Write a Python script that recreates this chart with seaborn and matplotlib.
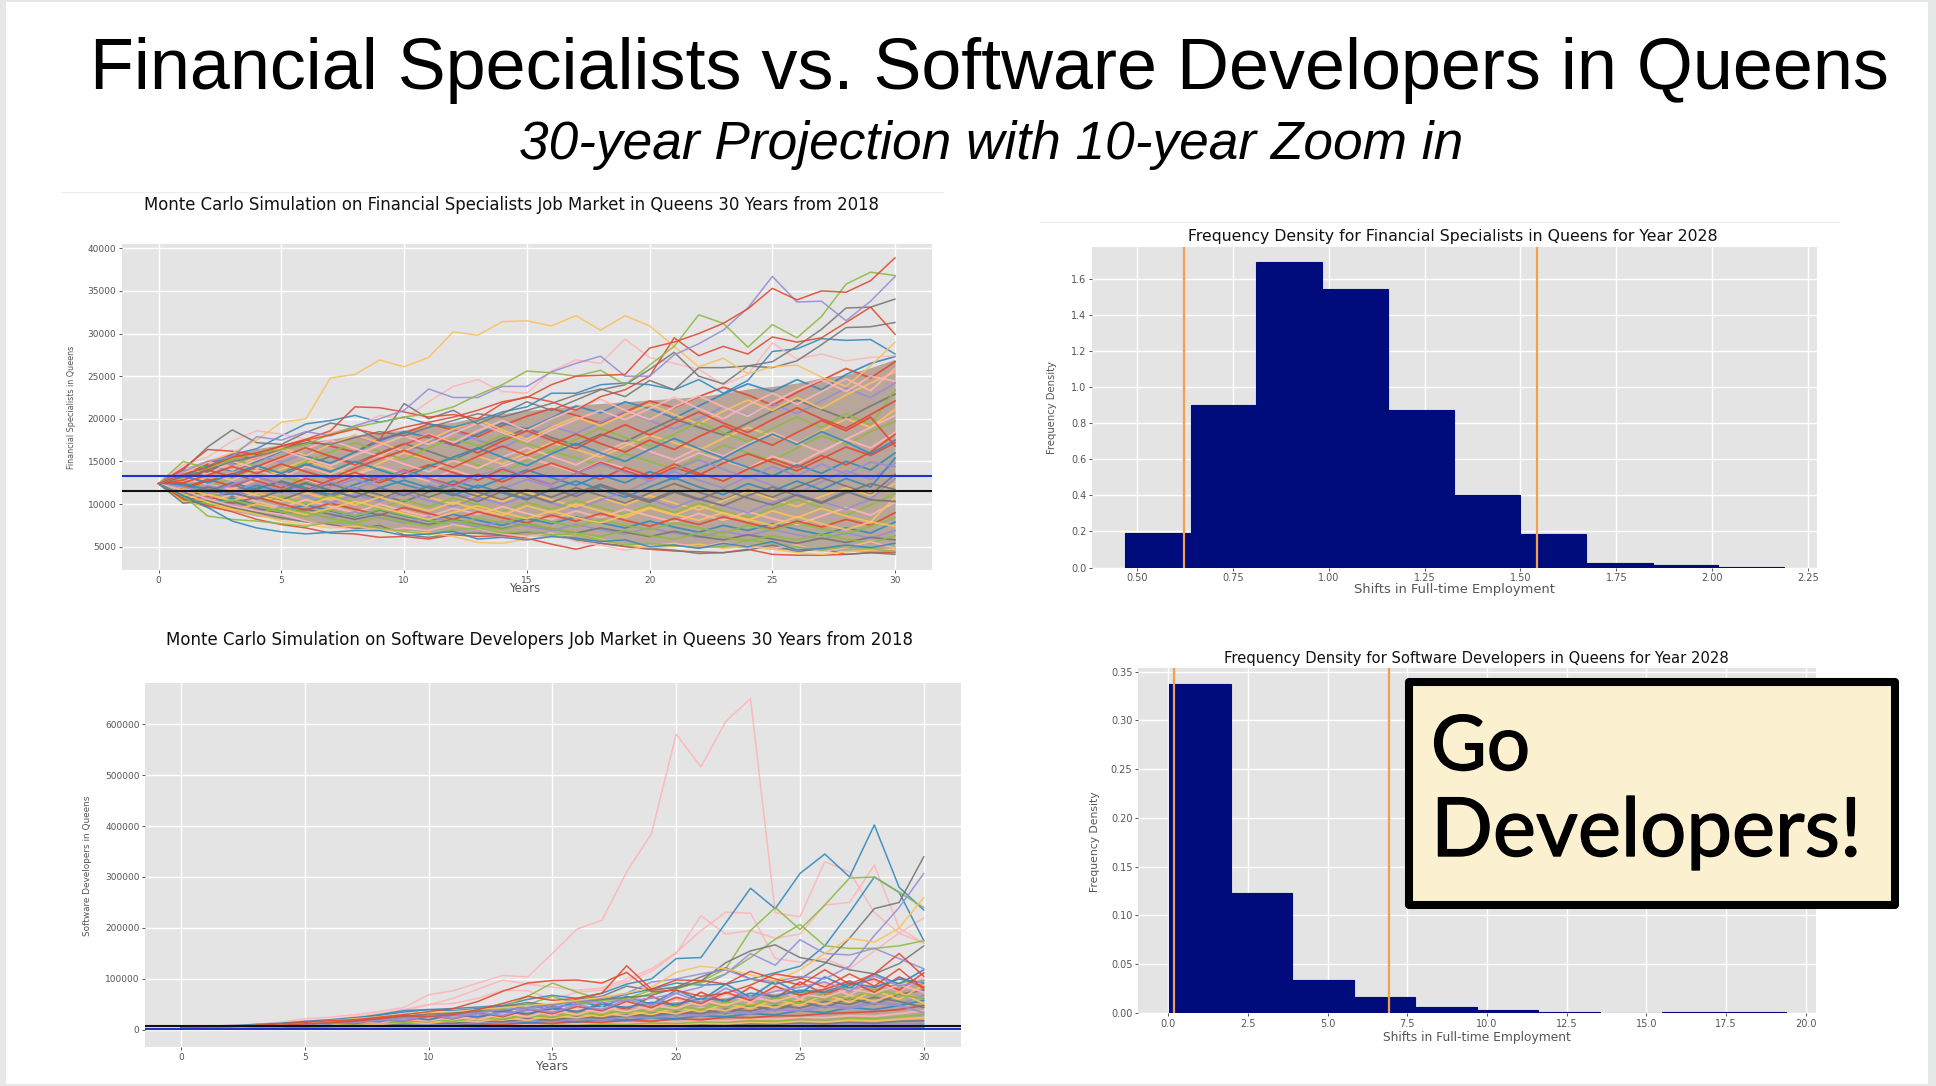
import matplotlib
matplotlib.use("Agg")
import matplotlib.pyplot as plt
import matplotlib.patheffects as pe
from matplotlib.patches import Rectangle
import pandas as pd
import seaborn as sns

W, H = 1936, 1086
R, B, P, K, Y, G, N = "#E24A33", "#348ABD", "#988ED5", "#777777", "#FBC15E", "#8EBA42", "#FFB5B8"
YEARS = list(range(31))

# ---- Financial specialists: values in thousands
fin_yellow = [12.4,13.5,15.0,16.0,17.5,19.6,20.0,24.8,25.2,26.9,26.1,27.2,30.2,29.8,31.4,31.5,30.9,32.1,30.4,32.1,30.9,28.5,26.1,27.1,25.3,26.1,26.3,24.9,23.8,26.2,29.0]
fin_red1 = [12.4,13.5,14.3,15.5,16.0,16.8,17.5,18.1,18.8,18.2,19.0,19.6,20.2,21.0,22.0,22.5,24.0,25.0,25.1,25.2,28.3,29.0,30.0,31.2,32.9,35.3,33.95,35.0,34.85,36.2,38.9]
fin_purple = [12.4,13.8,15.0,15.6,17.9,17.5,18.5,18.0,19.2,20.0,21.0,23.5,22.5,22.5,23.8,23.8,25.5,26.5,27.35,25.0,25.0,27.5,28.8,30.4,33.0,36.7,33.7,33.8,31.5,33.8,36.7]
fin_green = [12.4,15.0,14.2,15.2,16.0,16.4,17.0,18.2,19.0,19.6,20.2,20.6,21.4,22.8,24.0,25.6,25.4,25.0,25.7,24.0,26.3,28.5,32.2,31.2,28.4,31.05,29.5,32.0,35.8,37.2,36.8]
fin_grey1 = [12.4,14.0,16.7,18.7,17.2,17.0,18.4,19.5,19.0,17.5,21.8,20.0,21.0,19.4,20.6,22.0,21.0,22.2,23.4,24.0,25.8,27.8,25.0,24.1,26.2,26.7,28.5,30.5,33.0,33.1,34.05]
fin_grey2 = [12.4,13.2,14.0,15.0,15.6,16.4,17.2,17.0,17.8,18.5,18.0,19.0,19.8,20.6,20.2,21.0,21.8,22.8,23.5,22.6,24.5,23.4,26.0,26.0,26.2,26.0,26.8,28.7,30.7,30.8,31.3]
fin_red2 = [12.4,14.2,16.4,16.2,15.8,16.8,17.6,18.6,21.4,21.3,20.8,20.2,20.5,20.0,21.8,22.6,22.0,21.0,22.6,23.4,25.0,29.5,27.4,28.5,27.6,29.6,29.0,29.5,31.3,33.1,29.9]
fin_pink = [12.4,14.6,15.5,17.4,18.6,18.2,17.6,18.4,19.0,20.4,20.0,22.0,23.8,24.6,23.2,23.0,25.6,26.9,26.5,29.35,27.2,26.5,25.8,24.0,25.2,28.9,27.0,27.6,26.8,27.2,27.4]
fin_blue_hi = [12.4,13.4,14.4,15.8,16.5,18.0,19.4,19.8,20.4,19.6,20.2,19.4,19.0,19.8,20.8,21.4,23.0,23.0,24.0,24.2,24.0,23.4,24.6,23.0,24.5,27.9,28.2,29.4,29.2,29.3,27.6]
fin_blue_lo = [12.4,11.0,9.6,8.0,7.2,6.75,6.5,6.7,6.9,6.9,6.3,6.5,6.8,5.9,6.1,5.8,6.2,6.0,5.6,5.8,5.0,5.2,4.8,5.4,5.0,5.6,4.6,4.8,5.2,4.9,5.4]
fin_green_lo = [12.4,11.0,8.6,8.2,8.0,7.7,7.4,7.9,7.7,7.2,6.8,6.4,7.0,7.2,6.6,6.8,6.4,6.5,5.8,5.2,5.4,5.1,4.9,5.0,5.8,5.4,5.0,4.6,5.0,4.8,4.4]
fin_yellow_lo = [12.4,11.2,10.2,9.4,8.8,8.0,7.6,7.2,7.4,7.0,6.7,6.6,6.2,5.5,5.4,5.9,6.1,6.5,5.9,5.2,4.9,5.0,5.3,4.8,5.1,4.7,4.3,4.1,4.4,4.6,4.7]
fin_red_lo = [12.4,10.6,9.8,9.1,8.2,7.6,7.2,6.6,6.5,6.1,6.2,5.9,6.4,6.2,6.3,6.0,5.3,4.7,5.4,5.0,4.7,4.5,4.4,4.3,4.7,4.1,4.0,4.0,4.1,4.3,4.3]
fin_grey_lo = [12.4,10.1,10.4,9.6,9.0,8.4,7.9,7.6,7.1,7.5,6.4,6.1,6.5,6.6,6.4,6.7,6.5,5.8,5.4,5.1,4.8,4.6,4.2,4.3,4.6,5.2,4.4,4.8,4.1,4.3,4.1]
fin_pink_lo = [12.4,11.6,10.6,9.8,9.2,8.8,8.0,7.4,7.0,6.8,7.2,6.9,7.6,7.1,6.5,6.2,6.6,5.6,5.2,4.6,5.1,5.4,4.9,5.5,5.0,4.8,5.2,4.4,4.9,5.6,4.8]
m01 = [12.4,13.6,14.7,15.9,15.2,16.4,17.5,16.8,16.1,17.6,18.3,19.4,18.7,17.9,19.2,20.3,21.2,20.4,19.5,20.8,22.1,21.3,22.6,23.7,22.8,21.6,23.1,24.5,25.9,24.8,26.7]
m02 = [12.4,13.2,14.5,13.9,15.0,16.2,15.6,14.8,16.1,17.4,18.5,17.8,16.9,18.2,19.5,18.8,20.1,21.5,20.7,22.0,21.2,20.1,21.5,22.9,24.1,23.2,24.6,23.4,25.2,26.5,27.3]
m03 = [12.4,14.1,13.4,14.6,15.7,14.9,15.9,17.0,18.0,17.1,16.0,17.3,18.6,17.5,16.6,18.0,19.1,18.3,19.6,20.9,19.8,18.8,20.0,21.4,20.4,21.8,20.6,22.1,23.6,22.5,24.2]
m04 = [12.4,12.9,13.8,14.9,14.1,13.3,14.5,15.6,14.8,16.0,17.1,16.2,15.2,16.5,17.7,18.9,17.8,16.9,18.2,17.3,18.7,20.0,19.0,18.1,19.5,20.9,22.2,21.1,20.0,21.5,22.9]
m05 = [12.4,13.4,12.8,13.7,12.9,14.1,15.1,14.2,13.5,14.8,16.0,15.2,14.3,15.6,14.7,16.0,17.2,16.4,15.5,16.8,18.1,17.2,16.3,17.7,19.0,18.0,17.1,18.6,20.0,19.0,21.1]
m06 = [12.4,12.6,11.9,13.1,14.0,13.2,12.5,13.8,14.9,14.1,13.2,14.5,15.5,14.6,13.7,15.1,16.2,15.4,14.6,15.9,15.0,14.1,15.5,16.9,16.0,15.1,16.6,18.0,17.0,18.5,19.7]
m07 = [12.4,13.0,12.3,11.7,12.9,13.8,12.9,12.1,13.4,14.4,13.5,12.7,14.0,13.1,14.4,15.5,14.6,13.7,15.0,14.2,13.3,14.7,16.0,15.1,14.2,15.6,14.7,16.2,17.6,16.6,18.4]
m08 = [12.4,11.8,12.7,13.6,12.7,11.9,13.0,12.2,13.3,12.5,13.6,14.6,13.7,12.8,14.1,13.2,12.3,13.6,14.9,13.9,13.0,14.3,13.4,14.8,15.9,14.9,13.9,15.3,16.7,15.7,17.2]
m09 = [12.4,12.2,11.5,12.5,11.7,12.7,11.9,11.1,12.3,13.2,12.3,11.5,12.7,11.9,13.0,14.0,13.1,12.2,13.4,12.5,13.8,12.9,14.2,15.3,14.3,13.3,14.6,13.6,15.0,14.0,16.0]
m10 = [12.4,11.3,12.2,11.5,12.4,11.6,10.9,12.0,12.9,12.0,11.2,12.3,11.4,10.6,11.8,12.9,12.0,11.1,12.3,11.4,12.7,13.8,12.8,11.9,13.2,12.2,11.3,12.6,13.9,12.9,14.8]
m11 = [12.4,10.9,11.7,10.9,11.9,12.6,11.7,10.9,11.9,11.1,10.3,11.4,12.3,11.4,10.5,11.7,10.8,11.9,11.0,10.1,11.3,12.4,11.4,10.5,11.7,10.8,12.0,13.1,12.1,11.1,13.5]
m12 = [12.4,11.6,10.9,11.8,11.0,10.3,11.3,10.5,11.5,10.7,11.7,10.8,10.0,11.1,10.3,11.4,10.5,9.7,10.8,9.9,11.0,10.1,9.3,10.4,11.5,10.6,9.7,10.9,11.9,11.0,12.4]
m13 = [12.4,10.7,11.4,10.6,9.9,10.9,10.1,11.0,10.2,9.5,10.5,9.7,10.7,9.9,9.1,10.2,9.4,10.4,9.6,8.8,9.9,9.0,10.1,9.2,8.4,9.5,10.5,9.6,8.7,9.9,11.2]
m14 = [12.4,11.1,10.3,11.1,10.3,9.6,10.5,9.7,9.0,10.0,9.2,8.5,9.5,8.8,9.7,8.9,8.2,9.2,8.4,9.4,8.6,7.9,8.9,8.1,9.1,8.3,7.6,8.6,9.6,8.7,10.2]
m15 = [12.4,10.4,10.9,10.1,10.8,10.0,9.3,10.1,9.4,8.7,9.6,8.9,8.2,9.1,8.4,7.8,8.7,8.0,8.9,8.1,7.4,8.3,7.6,8.5,7.8,7.1,8.0,7.3,8.2,7.5,9.0]
m16 = [12.4,10.9,10.0,10.7,9.9,9.2,9.9,9.2,8.5,9.3,8.6,8.0,8.8,8.1,7.5,8.3,7.7,8.5,7.8,7.2,8.0,7.3,6.7,7.5,6.9,7.7,7.0,6.4,7.2,6.6,7.9]
m17 = [12.4,10.2,10.6,9.8,9.1,9.7,9.0,8.4,9.1,8.4,7.8,8.5,7.9,7.3,8.0,7.4,6.9,7.6,7.0,6.5,7.2,6.6,6.1,6.8,6.3,7.0,6.4,5.9,6.6,6.0,6.9]
m18 = [12.4,10.6,9.7,10.3,9.5,8.9,9.4,8.8,8.2,8.8,8.2,7.6,8.2,7.6,7.1,7.7,7.1,6.6,7.2,6.7,6.2,6.8,6.2,5.8,6.4,5.9,5.4,6.0,5.5,6.1,5.8]
m19 = [12.4,13.8,15.0,14.3,15.5,16.6,15.7,17.0,18.1,17.2,16.2,17.5,18.8,19.9,18.7,17.6,19.0,20.2,19.2,20.5,21.7,20.5,19.4,20.9,22.2,21.0,22.5,21.2,22.8,24.2,25.5]
m20 = [12.4,13.1,14.2,15.3,14.4,13.7,15.0,16.1,17.2,16.2,15.2,16.6,17.7,16.8,18.1,17.1,16.2,17.6,18.9,17.8,16.8,18.2,19.6,18.4,17.3,18.9,20.2,19.0,20.6,19.3,23.4]
m21 = [12.4,12.7,13.5,12.8,14.0,13.1,14.4,13.5,14.7,15.7,14.7,13.8,15.1,14.2,15.5,16.6,15.6,14.6,16.0,17.2,16.2,15.2,16.6,15.6,17.1,18.4,17.2,16.1,17.6,19.0,20.4]
m22 = [12.4,11.9,12.9,12.1,13.2,12.3,11.6,12.8,13.7,12.8,14.0,13.0,12.2,13.5,12.6,13.8,14.8,13.8,12.9,14.3,13.3,14.7,13.6,12.7,14.1,15.3,14.3,15.7,14.6,16.1,18.2]
m23 = [12.4,12.4,11.7,11.1,12.2,11.4,12.4,11.6,10.8,11.9,12.8,11.9,11.0,12.2,11.3,10.5,11.7,12.7,11.7,10.8,12.0,13.1,12.0,11.1,12.4,11.5,12.7,11.7,13.0,12.0,15.4]
m24 = [12.4,11.5,10.7,11.6,10.7,11.7,10.9,10.1,11.1,10.3,11.3,10.4,9.7,10.8,10.0,11.0,10.1,9.4,10.5,11.4,10.5,9.6,10.7,9.8,9.0,10.2,11.2,10.3,9.4,10.6,13.0]
m25 = [12.4,10.8,11.6,12.3,11.3,10.5,11.5,12.4,11.4,10.6,11.7,10.8,11.8,10.9,12.0,11.1,10.2,11.3,12.3,11.3,10.4,11.6,10.6,9.8,11.0,12.0,11.0,10.1,11.3,12.4,11.7]
m26 = [12.4,11.9,11.1,10.4,11.3,10.6,9.8,10.8,9.9,10.8,10.0,9.2,10.2,9.4,8.7,9.8,9.0,10.0,9.2,8.4,9.5,8.7,9.8,8.9,8.1,9.2,8.4,9.5,8.6,7.9,10.8]
m27 = [12.4,10.5,9.9,10.5,9.8,9.1,8.5,9.3,8.6,9.4,8.7,8.1,7.5,8.4,7.8,8.6,7.9,7.3,8.2,7.5,7.0,7.8,7.2,6.6,7.5,6.9,7.8,7.1,6.5,7.4,8.4]
m28 = [12.4,14.3,13.5,15.0,14.2,15.4,16.5,17.5,16.5,15.6,17.0,18.2,17.2,18.6,19.8,18.6,20.0,21.2,22.3,21.0,19.9,21.4,22.7,21.4,20.3,21.9,23.4,24.6,23.2,25.0,24.4]
m29 = [12.4,12.8,14.0,13.2,14.4,15.5,16.6,15.6,14.6,15.9,17.0,18.1,17.0,16.0,17.4,18.6,17.5,16.5,18.0,19.3,18.1,19.5,20.8,19.5,18.4,19.9,21.3,20.0,18.9,20.5,22.1]
m30 = [12.4,13.3,12.5,13.5,14.5,13.6,14.7,13.8,15.0,14.0,13.1,14.4,15.5,16.6,15.5,14.5,15.9,17.1,16.0,15.0,16.4,17.7,16.5,15.4,16.9,18.2,17.0,18.5,17.3,15.9,17.5]
m31 = [12.4,12.0,11.3,12.3,13.2,12.3,11.5,12.6,11.8,12.9,13.9,12.9,12.0,13.2,14.3,13.3,12.3,13.6,14.7,13.7,12.7,14.0,15.2,14.1,13.0,14.4,13.3,14.7,13.5,14.9,14.4]
m32 = [12.4,11.2,12.0,11.3,10.6,11.6,12.5,11.6,10.8,11.9,11.0,12.1,11.2,10.3,11.5,10.6,11.8,10.9,12.1,11.1,10.2,11.4,10.5,11.7,10.7,9.9,11.1,10.2,11.5,10.5,10.3]
m33 = [12.4,10.3,9.8,9.3,10.0,9.4,8.8,9.5,10.3,9.6,8.9,8.2,9.0,9.8,9.0,8.3,9.2,8.4,7.8,8.7,9.6,8.8,8.1,9.0,8.2,7.5,8.5,7.7,7.0,7.9,7.4]
m34 = [12.4,10.7,10.1,9.5,8.9,9.6,9.0,8.3,7.8,8.5,7.9,7.4,8.1,7.5,7.0,7.7,7.1,6.6,6.2,6.9,6.3,5.9,6.6,6.1,5.7,6.3,5.8,6.5,5.9,5.4,6.3]
m35 = [12.4,13.7,14.9,14.0,15.2,16.3,15.4,14.5,15.7,16.9,18.0,17.0,18.3,19.5,18.4,17.3,18.7,19.9,21.0,19.9,21.2,22.5,21.2,20.0,21.6,23.0,21.7,23.2,24.7,23.3,25.9]
m36 = [12.4,12.5,13.4,14.4,13.6,14.7,13.8,13.0,14.2,15.3,16.3,15.3,14.3,15.6,16.8,15.7,17.0,18.2,17.1,16.1,17.5,16.4,17.9,19.2,18.0,16.9,18.4,19.8,18.6,20.2,16.8]
fin_mass = [m01,m02,m03,m04,m05,m06,m07,m08,m09,m10,m11,m12,m13,m14,m15,m16,m17,m18,m19,m20,m21,m22,m23,m24,m25,m26,m27,m28,m29,m30,m31,m32,m33,m34,m35,m36]
fin_top = [(fin_red_lo,R),(fin_grey_lo,K),(fin_pink_lo,N),(fin_yellow_lo,Y),(fin_green_lo,G),(fin_blue_lo,B),(fin_blue_hi,B),(fin_pink,N),(fin_grey2,K),(fin_grey1,K),(fin_red2,R),(fin_yellow,Y),(fin_purple,P),(fin_green,G),(fin_red1,R)]
fin_band_hi = [12.4,14.2,15.2,15.8,16.5,17.0,17.3,17.6,18.1,18.4,18.7,19.3,19.6,20.2,20.6,21.0,21.2,21.6,21.8,22.0,22.2,22.4,22.6,23.0,23.5,23.8,24.2,24.8,25.2,26.0,27.0]
fin_band_lo = [12.4,10.4,9.6,9.2,8.6,8.2,7.9,7.5,7.2,7.0,6.9,6.7,6.7,6.5,6.3,6.3,6.2,5.8,5.6,5.3,5.2,5.1,5.0,4.9,4.9,4.7,4.6,4.5,4.5,4.4,4.3]
fin_mean, fin_median = 13326, 11530

# ---- Software developers: values in thousands
dev_pink1 = [5,7,9,11,15,22,25,30,36,44,69,77,92,107,104,150,198,215,310,385,580,516,605,650,230,222,330,310,230,190,170]
dev_blue1 = [5,6,8,11,13,17,20,24,28,35,40,42,45,48,60,68,62,72,90,100,140,142,210,278,238,307,345,300,402,280,235]
dev_blue2 = [5,6,7,9,12,15,18,23,30,38,40,38,42,46,50,44,52,58,70,80,92,88,90,100,112,125,165,230,300,270,175]
dev_green1 = [5,6,7,8,10,13,16,20,24,28,30,34,38,44,66,92,74,60,58,72,80,95,120,195,240,197,245,298,300,270,240]
dev_green2 = [5,6,7,9,11,12,16,18,22,26,30,32,36,42,50,66,52,58,62,78,84,92,110,142,178,207,165,160,160,165,175]
dev_grey1 = [5,6,7,8,10,12,15,18,22,26,32,34,38,46,54,48,60,66,86,78,84,104,122,100,90,100,130,180,238,250,340]
dev_grey2 = [5,5,7,8,9,12,14,17,20,24,28,32,36,38,44,50,56,60,64,68,82,96,132,155,167,142,133,118,110,130,165]
dev_purple1 = [5,6,7,8,10,12,14,16,20,24,28,30,34,40,44,48,56,62,72,94,100,110,118,100,95,105,100,125,185,240,307]
dev_purple2 = [5,5,7,8,9,11,13,15,18,22,26,28,30,34,38,44,50,54,58,62,72,84,110,150,127,177,150,147,160,140,120]
dev_pink2 = [5,6,8,10,13,18,20,26,32,40,50,52,62,78,77,60,74,78,95,115,150,224,188,195,180,188,245,250,323,200,170]
dev_pink3 = [5,6,8,9,12,16,19,24,30,38,49,62,80,98,90,84,78,82,100,120,152,195,231,229,140,133,140,120,155,190,220]
dev_red1 = [5,6,7,8,9,12,14,17,22,28,26,30,40,52,66,58,62,72,126,80,98,97,90,115,100,88,118,90,110,150,105]
dev_red2 = [5,6,7,9,12,15,18,20,25,30,36,42,56,76,92,97,98,92,113,75,78,66,72,88,110,102,84,110,86,120,80]
dev_yellow = [5,6,7,8,10,13,18,22,26,32,34,36,40,44,48,52,58,64,72,84,113,125,120,108,96,118,150,180,172,200,260]
d01 = [5,6,8,10,14,12,18,15,24,20,32,26,40,34,50,38,58,44,66,50,78,58,90,64,96,72,104,82,110,90,118]
d02 = [5,5,7,9,8,13,11,18,15,24,20,32,24,38,30,46,34,54,40,66,46,74,54,84,62,94,70,88,100,78,112]
d03 = [5,5,6,8,10,9,14,12,18,16,24,20,30,24,36,30,42,34,50,40,60,48,70,54,82,60,90,68,96,76,104]
d04 = [5,5,6,7,9,11,10,14,13,18,16,24,20,28,24,34,28,40,34,46,38,56,44,66,50,76,58,84,66,92,98]
d05 = [5,5,6,6,8,9,11,10,14,12,18,15,22,18,26,22,32,26,38,30,44,36,52,42,60,48,70,54,78,60,88]
d06 = [5,5,5,6,7,8,9,11,10,14,12,17,15,20,18,24,21,30,24,34,28,40,32,48,38,56,44,62,50,70,78]
d07 = [5,5,5,6,6,7,8,9,11,10,13,12,16,14,19,17,23,20,27,24,32,28,38,32,44,38,50,44,58,50,68]
d08 = [5,5,5,5,6,7,7,8,9,11,10,13,12,15,14,18,16,21,19,24,22,28,26,32,30,38,34,44,40,48,58]
d09 = [5,5,5,5,5,6,7,7,8,9,10,9,12,11,14,13,16,15,19,17,22,20,25,24,28,28,32,34,36,40,48]
d10 = [5,5,5,5,5,5,6,6,7,7,8,9,9,11,10,13,12,15,14,17,16,19,18,22,21,25,24,28,27,32,38]
d11 = [5,5,5,5,5,5,5,6,6,7,7,8,8,9,9,11,10,12,11,14,13,16,15,18,17,21,19,24,22,26,30]
d12 = [5,5,5,4,5,5,5,5,5,6,6,6,7,7,8,8,9,9,10,11,11,13,12,15,14,17,16,19,18,21,24]
d13 = [5,4,5,4,4,5,4,5,5,5,5,5,6,6,6,7,6,8,7,9,8,10,9,12,11,14,12,15,13,17,18]
d14 = [5,4,4,4,4,4,4,4,4,4,4,4,5,5,5,5,5,6,5,7,6,8,7,9,8,10,9,11,10,12,13]
d15 = [5,4,4,4,3,4,3,4,3,4,3,4,3,4,3,4,4,4,4,5,4,5,5,6,5,7,6,8,6,8,9]
d16 = [5,4,4,3,3,3,3,3,3,3,3,3,3,3,3,3,3,3,3,3,3,4,3,4,3,4,4,5,4,5,5]
d17 = [5,6,9,7,13,10,17,14,22,18,30,22,36,28,44,34,50,40,60,48,72,54,82,62,76,84,94,76,106,86,96]
d18 = [5,6,7,10,9,14,12,19,16,26,20,30,26,36,32,42,36,50,44,54,50,62,58,72,66,78,74,92,84,100,92]
d19 = [5,5,7,8,11,10,15,13,20,17,28,22,34,26,40,32,46,38,56,44,64,52,74,58,86,68,80,96,74,104,84]
d20 = [5,5,6,8,9,12,11,16,14,22,18,26,20,32,26,38,30,44,36,48,42,58,48,64,56,70,64,80,72,88,74]
d21 = [5,5,6,7,8,10,12,11,15,14,20,17,24,21,29,25,34,30,40,35,47,40,55,47,63,53,72,60,80,68,62]
d22 = [5,5,6,7,7,9,10,12,11,15,13,19,16,24,19,28,24,32,28,38,32,44,38,52,44,60,50,68,56,74,52]
d23 = [5,5,5,6,7,7,9,10,11,12,14,13,18,16,22,19,26,23,30,27,35,32,41,37,48,43,56,50,64,56,44]
d24 = [5,5,5,6,6,7,8,9,10,10,12,12,15,14,18,17,21,20,25,24,29,28,34,32,40,37,46,42,52,48,34]
dev_mass = [d16,d15,d14,d13,d12,d11,d10,d09,d08,d07,d06,d05,d04,d03,d02,d01,d24,d23,d22,d21,d20,d19,d18,d17]
dev_top = [(dev_pink1,N),(dev_pink2,N),(dev_pink3,N),(dev_blue1,B),(dev_blue2,B),(dev_green1,G),(dev_green2,G),(dev_grey1,K),(dev_grey2,K),(dev_purple1,P),(dev_purple2,P),(dev_yellow,Y),(dev_red1,R),(dev_red2,R)]
dev_band_hi = [5,5.5,6,7,8,10,12,14,16,18,22,25,28,32,36,38,40,44,48,50,56,60,64,70,72,78,82,84,88,90,92]
dev_band_lo = [5,4.5,4,4,4,3.5,3.5,3.5,3,3,3,3,3,3,3,3,3,3,3,3,2,2,2,2,2,2,2,2,2,2,2]
dev_mean, dev_median = 2000, 7300

# ---- Histograms
fin_edges = [0.468,0.640,0.811,0.983,1.155,1.327,1.499,1.671,1.845,2.014,2.186]
fin_heights = [0.19,0.90,1.69,1.54,0.87,0.40,0.185,0.025,0.015,0.005]
fin_bounds = [0.623,1.543]
dev_edges = [0.02,1.96,3.89,5.83,7.74,9.68,11.61,13.55,15.5,17.45,19.37]
dev_heights = [0.337,0.123,0.034,0.016,0.006,0.003,0.001,0.0,0.001,0.001]
dev_bounds = [0.175,6.94]

sns.set_theme(style="darkgrid", rc={
    "axes.facecolor": "#E4E4E4", "grid.color": "white", "grid.linewidth": 1.0,
    "axes.edgecolor": "none", "xtick.bottom": True, "ytick.left": True,
    "xtick.color": "#555555", "ytick.color": "#555555", "text.color": "#111111",
    "axes.labelcolor": "#555555", "xtick.major.size": 2.5, "ytick.major.size": 2.5,
    "xtick.major.width": 0.7, "ytick.major.width": 0.7,
})
plt.rcParams["font.family"] = ["DejaVu Sans"]

fig = plt.figure(figsize=(W / 100, H / 100), dpi=100, facecolor="#E6E7E7")
fig.add_artist(Rectangle((6 / W, 1 - 1084 / H), 1922 / W, 1082 / H, transform=fig.transFigure,
                         facecolor="white", edgecolor="none", zorder=-5))
for x0, x1, yy in [(61, 944, 192), (1040, 1840, 222)]:
    fig.add_artist(Rectangle((x0 / W, 1 - (yy + 1) / H), (x1 - x0) / W, 1.5 / H, transform=fig.transFigure,
                             facecolor="#EDEDED", edgecolor="none", zorder=-4))


def make_axes(l, r, t, b, xlim, ylim):
    ax = fig.add_axes([l / W, 1 - b / H, (r - l) / W, (b - t) / H])
    ax.set_xlim(*xlim)
    ax.set_ylim(*ylim)
    ax.set_axisbelow(True)
    ax.box = (l, r, t, b)
    return ax


def fit(text_obj, size_px):
    fig.canvas.draw()
    ext = text_obj.get_window_extent()
    cur = max(ext.width, ext.height)
    text_obj.set_fontsize(text_obj.get_fontsize() * size_px / cur)


def labels(ax, title, tcx, tcy, tw, xl, xcx, xcy, xw, yl, ycx, ycy, yh, ticksize):
    l, r, t, b = ax.box
    ax.set_title(title, x=(tcx - l) / (r - l), y=(b - tcy) / (b - t), pad=0, va="center", ha="center", color="#111111", fontsize=10)
    ax.set_xlabel(xl, fontsize=8, va="center", ha="center")
    ax.xaxis.set_label_coords((xcx - l) / (r - l), (b - xcy) / (b - t))
    ax.set_ylabel(yl, fontsize=8, va="center", ha="center")
    ax.yaxis.set_label_coords((ycx - l) / (r - l), (b - ycy) / (b - t))
    ax.tick_params(labelsize=ticksize, pad=1.5)
    fit(ax.title, tw)
    fit(ax.xaxis.label, xw)
    fit(ax.yaxis.label, yh)


def lines(ax, series, colors, lw, scale=1000):
    frame = pd.DataFrame({
        "year": YEARS * len(series),
        "value": [v * scale for s in series for v in s],
        "sim": [i for i in range(len(series)) for _ in YEARS],
    })
    sns.lineplot(data=frame, x="year", y="value", hue="sim", palette=list(colors), legend=False,
                 errorbar=None, estimator=None, linewidth=lw, alpha=0.9, ax=ax)


def fan(ax, hi, lo, mass, top, mean, median, ticks):
    ax.fill_between(YEARS, [v * 1000 for v in lo], [v * 1000 for v in hi], color="#B9A69A", lw=0, zorder=1.5)
    cycle = [R, B, P, K, Y, G, N]
    lines(ax, mass, [cycle[i % 7] for i in range(len(mass))], 1.3)
    lines(ax, [s for s, _ in top], [c for _, c in top], 1.1)
    ax.axhline(mean, color="#1F33D0", lw=1.5)
    ax.axhline(median, color="#111111", lw=1.5)
    ax.set_xticks(range(0, 31, 5))
    ax.set_yticks(ticks)


def hist(ax, edges, heights, bounds, xticks, xfmt, yticks, yfmt):
    sns.histplot(x=edges[:-1], weights=heights, bins=edges, color="#000B7C", edgecolor="#000B7C",
                 linewidth=0.8, alpha=1, ax=ax)
    for b in bounds:
        ax.axvline(b, color="#F2A04E", lw=1.6)
    ax.set_xticks(xticks, [xfmt.format(v) for v in xticks])
    ax.set_yticks(yticks, [yfmt.format(v) for v in yticks])


a1 = make_axes(122, 932, 244, 570, (-1.49, 31.5), (2267, 40504))
fan(a1, fin_band_hi, fin_band_lo, fin_mass, fin_top, fin_mean, fin_median, list(range(5000, 40001, 5000)))
labels(a1, "Monte Carlo Simulation on Financial Specialists Job Market in Queens 30 Years from 2018", 512, 205, 737,
       "Years", 525, 588, 31, "Financial Specialists in Queens", 72, 407, 123, 6.5)

a2 = make_axes(145, 961, 683, 1047, (-1.45, 31.5), (-33400, 680460))
fan(a2, dev_band_hi, dev_band_lo, dev_mass, dev_top, dev_mean, dev_median, list(range(0, 600001, 100000)))
labels(a2, "Monte Carlo Simulation on Software Developers Job Market in Queens 30 Years from 2018", 539, 640, 748,
       "Years", 552, 1067, 32, "Software Developers in Queens", 88, 866, 141, 6.5)

a3 = make_axes(1092, 1817, 247, 567.5, (0.383, 2.273), (0, 1.775))
hist(a3, fin_edges, fin_heights, fin_bounds, [0.5, 0.75, 1.0, 1.25, 1.5, 1.75, 2.0, 2.25], "{:.2f}",
     [0, 0.2, 0.4, 0.6, 0.8, 1.0, 1.2, 1.4, 1.6], "{:.1f}")
labels(a3, "Frequency Density for Financial Specialists in Queens for Year 2028", 1453, 237, 530,
       "Shifts in Full-time Employment", 1454, 590, 201, "Frequency Density", 1052, 408, 94, 7)

a4 = make_axes(1138, 1816, 668, 1013, (-0.944, 20.32), (0, 0.3538))
hist(a4, dev_edges, dev_heights, dev_bounds, [0, 2.5, 5, 7.5, 10, 12.5, 15, 17.5, 20], "{:.1f}",
     [0, 0.05, 0.1, 0.15, 0.2, 0.25, 0.3, 0.35], "{:.2f}")
labels(a4, "Frequency Density for Software Developers in Queens for Year 2028", 1476, 658, 500,
       "Shifts in Full-time Employment", 1477, 1038, 188, "Frequency Density", 1095, 842, 101, 7)

# Slide headings
t_main = fig.text(989.5 / W, 1 - 71 / H, "Financial Specialists vs. Software Developers in Queens",
                  family="Liberation Sans", color="black", fontsize=50, ha="center", va="center")
fit(t_main, 1799)
t_sub = fig.text(991 / W, 1 - 145 / H, "30-year Projection with 10-year Zoom in",
                 family="Liberation Sans", style="italic", color="black", fontsize=38, ha="center", va="center")
fit(t_sub, 944)

# Callout
fig.add_artist(Rectangle((1409 / W, 1 - 905 / H), 486 / W, 223 / H, transform=fig.transFigure,
                         facecolor="#FBF0CF", edgecolor="black", linewidth=5.8, zorder=5, joinstyle="round"))
thick = [pe.withStroke(linewidth=1.0, foreground="black", joinstyle="round", capstyle="round")]
fig.text(1431 / W, 1 - 770 / H, "Go", family="Lato", color="black", fontsize=55, ha="left", va="baseline", zorder=6, path_effects=thick)
t_dev = fig.text(1431 / W, 1 - 856 / H, "Developers!", family="Lato", color="black", fontsize=55, ha="left", va="baseline", zorder=6, path_effects=thick)
fit(t_dev, 431)

fig.savefig("out.png", dpi=100, facecolor=fig.get_facecolor())
